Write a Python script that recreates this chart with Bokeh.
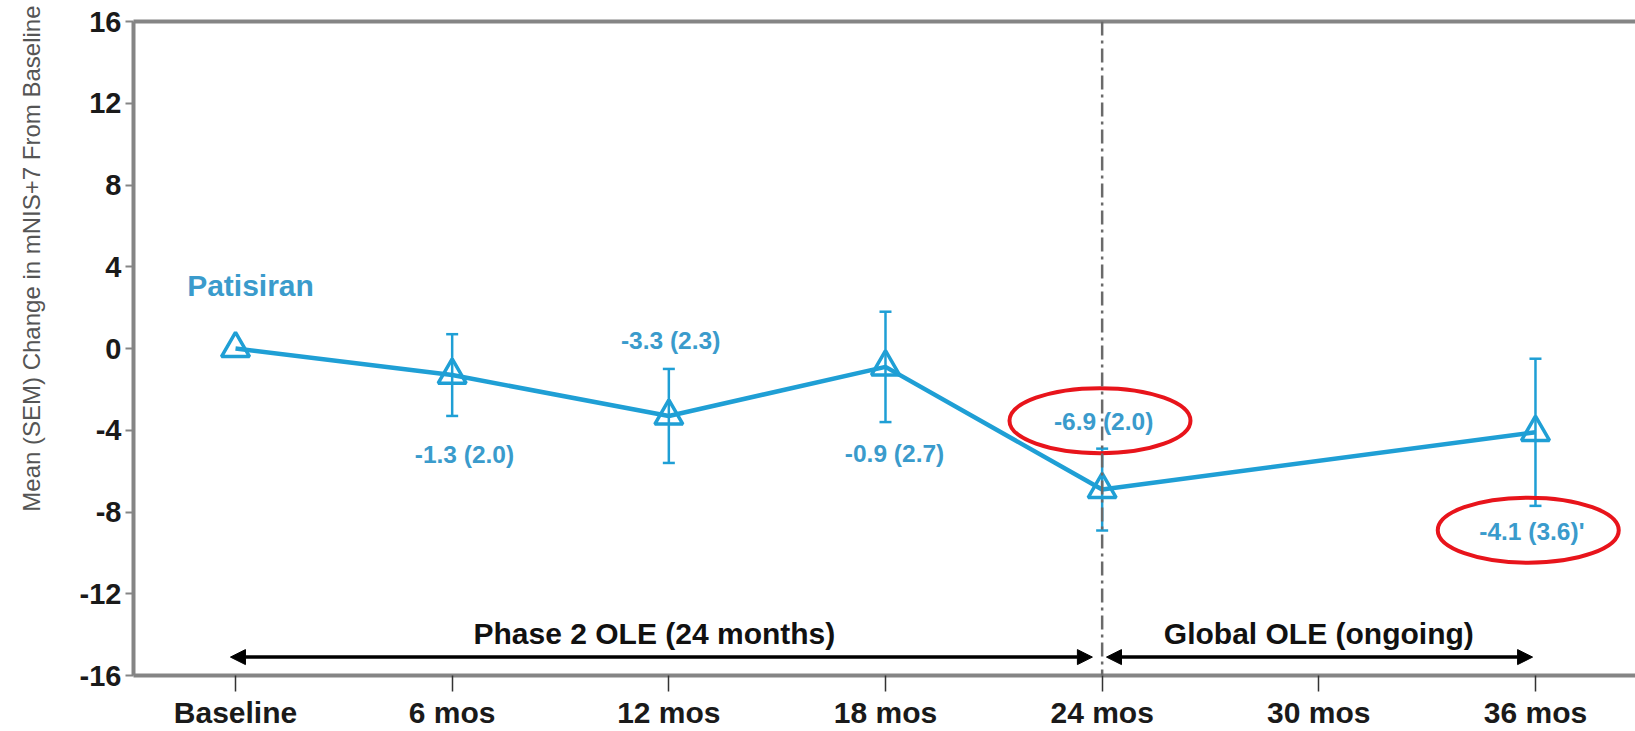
from bokeh.plotting import figure
from bokeh.models import (Range1d, LinearAxis, FixedTicker, Span, Arrow, NormalHead,
                          Whisker, TeeHead, ColumnDataSource, Label, Title)
from bokeh.core.properties import value
from bokeh.embed import file_html
from bokeh.resources import INLINE

# ---- data ----
months = [0, 6, 12, 18, 24, 36]
means = [0.0, -1.3, -3.3, -0.9, -6.9, -4.1]
sems = [0.0, 2.0, 2.3, 2.7, 2.0, 3.6]
value_labels = ["", "-1.3 (2.0)", "-3.3 (2.3)", "-0.9 (2.7)", "-6.9 (2.0)", "-4.1 (3.6)'"]
tick_months = [0, 6, 12, 18, 24, 30, 36]
tick_labels = ["Baseline", "6 mos", "12 mos", "18 mos", "24 mos", "30 mos", "36 mos"]
y_ticks = [-16, -12, -8, -4, 0, 4, 8, 12, 16]
y_title = "Mean (SEM) Change in mNIS+7 From Baseline"
series_name = "Patisiran"
phase_names = ["Phase 2 OLE (24 months)", "Global OLE (ongoing)"]
phase_bounds = [(0, 24), (24, 36)]
highlighted = [4, 5]  # indices of circled labels

# ---- styling / placement ----
BLUE = "#1f9fd5"
TXT_BLUE = "#3a9bcc"
label_offsets = [(0, 0), (0.34, -3.9), (0.05, 3.67), (0.25, -4.24), (0.04, 3.32), (-0.1, -4.84)]
FONT = value("Liberation Sans")

p = figure(width=1635, height=731, output_backend="svg", toolbar_location=None,
           x_range=Range1d(-2.825, 38.77), y_range=Range1d(-16, 16),
           min_border_left=133, min_border_right=0, min_border_top=21, min_border_bottom=53)
p.outline_line_color = None
p.grid.visible = False
p.background_fill_color = "white"

# y axis
ya = p.yaxis[0]
ya.ticker = FixedTicker(ticks=y_ticks)
ya.major_label_overrides = {t: str(t) for t in y_ticks}
ya.axis_line_color = "#858585"
ya.axis_line_width = 4
ya.major_tick_line_color = "#858585"
ya.major_tick_line_width = 2
ya.major_tick_out = 8
ya.major_tick_in = 0
ya.minor_tick_line_color = None
ya.major_label_text_font = "Liberation Sans"
ya.major_label_text_font_style = "bold"
ya.major_label_text_font_size = "29px"
ya.major_label_text_color = "#1a1a1a"
ya.major_label_standoff = 4
ya.axis_label = " "
ya.axis_label_text_font_size = "12px"
ya.axis_label_standoff = 10

# y title, shifted upward as in the original
p.add_layout(Title(text=y_title, align="right", offset=-16, text_font="Liberation Sans",
                   text_font_style="normal", text_font_size="24px", text_color="#555555"), "left")

# x axis
xa = p.xaxis[0]
xa.ticker = FixedTicker(ticks=tick_months)
xa.major_label_overrides = {m: t for m, t in zip(tick_months, tick_labels)}
xa.axis_line_color = "#858585"
xa.axis_line_width = 4
xa.major_tick_line_color = "#333333"
xa.major_tick_line_width = 1.5
xa.major_tick_out = 16
xa.major_tick_in = 0
xa.minor_tick_line_color = None
xa.major_label_text_font = "Liberation Sans"
xa.major_label_text_font_style = "bold"
xa.major_label_text_font_size = "30px"
xa.major_label_text_color = "#1a1a1a"
xa.major_label_standoff = 4

# top border line
top = LinearAxis(ticker=FixedTicker(ticks=[]), axis_line_color="#858585", axis_line_width=4,
                 major_tick_out=0, minor_tick_out=0, major_label_standoff=0)
p.add_layout(top, "above")

# divider at 24 months
p.add_layout(Span(location=phase_bounds[0][1], dimension="height", line_color="#6a6a6a",
                  line_width=2.5, line_dash="14 5 3 5"))

# phase arrows and titles
arrow_y = -15.1
gap = [(-0.14, -0.27), (0.12, -0.08)]
for (a, b), (g1, g2), name in zip(phase_bounds, gap, phase_names):
    p.add_layout(Arrow(start=NormalHead(size=15, fill_color="black", line_color="black"),
                       end=NormalHead(size=15, fill_color="black", line_color="black"),
                       x_start=a + g1, y_start=arrow_y, x_end=b + g2, y_end=arrow_y,
                       line_color="black", line_width=3.5))
    p.add_layout(Label(x=(a + b) / 2 - (0.4 if a == 0 else 0), y=-13.96, text=name,
                       text_align="center", text_baseline="middle",
                       text_font="Liberation Sans", text_font_style="bold",
                       text_font_size="30px", text_color="#111111"))

# series
src = ColumnDataSource(dict(x=months, y=means))
err_src = ColumnDataSource(dict(x=months[1:], upper=[m + s for m, s in zip(means[1:], sems[1:])],
                                lower=[m - s for m, s in zip(means[1:], sems[1:])]))
p.add_layout(Whisker(source=err_src, base="x", upper="upper", lower="lower",
                     line_color=BLUE, line_width=2.5,
                     upper_head=TeeHead(size=12, line_color=BLUE, line_width=2.5),
                     lower_head=TeeHead(size=12, line_color=BLUE, line_width=2.5)))
p.line("x", "y", source=src, line_color=BLUE, line_width=4.5)
p.scatter("x", "y", source=src, marker="triangle", size=28, fill_color=None,
          line_color=BLUE, line_width=3.5)

# value labels
lab_x = [m + dx for m, (dx, dy) in zip(months, label_offsets)]
lab_y = [v + dy for v, (dx, dy) in zip(means, label_offsets)]
p.text(x=lab_x[1:], y=lab_y[1:], text=value_labels[1:], text_align="center",
       text_baseline="middle", text_font=FONT, text_font_style="bold",
       text_font_size="24.5px", text_color=TXT_BLUE)

p.add_layout(Label(x=months[0] + 0.415, y=means[0] + 3.1, text=series_name,
                   text_align="center", text_baseline="middle", text_font="Liberation Sans",
                   text_font_style="bold", text_font_size="30px", text_color=TXT_BLUE))

# red highlight ellipses
ex = [lab_x[i] - 0.1 for i in highlighted]
ey = [lab_y[i] + 0.05 for i in highlighted]
p.ellipse(x=ex, y=ey, width=181, height=65, width_units="screen", height_units="screen",
          fill_color=None, line_color="#e8141b", line_width=4)

open("out.html", "w").write(file_html(p, INLINE))
